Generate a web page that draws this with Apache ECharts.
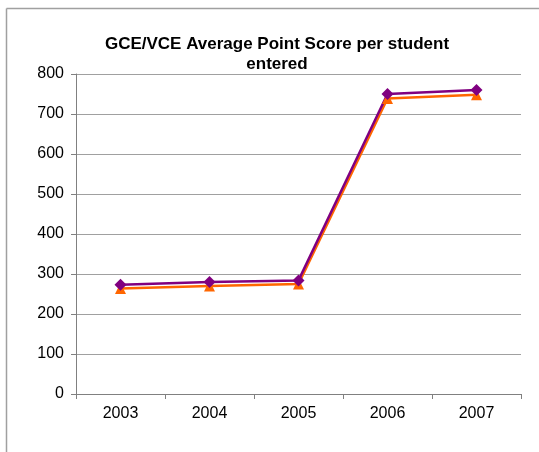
<!DOCTYPE html>
<html><head><meta charset="utf-8">
<script src="https://cdn.jsdelivr.net/npm/echarts@6/dist/echarts.min.js"></script>
<style>html,body{margin:0;padding:0;background:#fff}#c{width:539px;height:452px}</style>
</head><body><div id="c"></div>
<script>
var categories = ['2003', '2004', '2005', '2006', '2007'];
var seriesPurple = [273, 280, 284, 750, 760];
var seriesOrange = [264, 270, 275, 739, 748];
var yTicks = { min: 0, max: 800, interval: 100 };
var titleText = 'GCE/VCE Average Point Score per student\nentered';

var chart = echarts.init(document.getElementById('c'), null, {renderer: 'canvas'});
chart.setOption({
  animation: false,
  backgroundColor: '#fff',
  title: {
    text: titleText,
    left: 272, top: 29, textAlign: 'center',
    textStyle: {fontFamily: 'Liberation Sans, Arial, sans-serif', fontWeight: 'bold', fontSize: 17, color: '#000', lineHeight: 20}
  },
  graphic: [
    {type: 'line', shape: {x1: 6.5, y1: 8.5, x2: 539, y2: 8.5}, style: {stroke: '#a0a0a0', lineWidth: 1.5}},
    {type: 'line', shape: {x1: 6.5, y1: 8.5, x2: 6.5, y2: 452}, style: {stroke: '#a0a0a0', lineWidth: 1.5}}
  ],
  grid: {left: 76, right: 18, top: 74, bottom: 58, containLabel: false},
  xAxis: {
    type: 'category', data: categories, boundaryGap: true,
    axisLine: {lineStyle: {color: '#808080', width: 1}},
    axisTick: {show: true, inside: false, length: 5, lineStyle: {color: '#808080'}},
    axisLabel: {color: '#000', fontFamily: 'Liberation Sans, Arial, sans-serif', fontSize: 16, margin: 12}
  },
  yAxis: {
    type: 'value', min: yTicks.min, max: yTicks.max, interval: yTicks.interval,
    axisLine: {show: true, lineStyle: {color: '#808080', width: 1}},
    axisTick: {show: true, length: 5, lineStyle: {color: '#808080'}},
    splitLine: {show: true, lineStyle: {color: '#a0a0a0', width: 1}},
    axisLabel: {color: '#000', fontFamily: 'Liberation Sans, Arial, sans-serif', fontSize: 16, margin: 12}
  },
  series: [
    {
      name: 'Orange', type: 'line', data: seriesOrange,
      symbol: 'triangle', symbolSize: 11,
      lineStyle: {color: '#FF6600', width: 2.5},
      itemStyle: {color: '#FF6600'}
    },
    {
      name: 'Purple', type: 'line', data: seriesPurple,
      symbol: 'diamond', symbolSize: 12,
      lineStyle: {color: '#800080', width: 2.5},
      itemStyle: {color: '#800080'}
    }
  ]
});
</script></body></html>
